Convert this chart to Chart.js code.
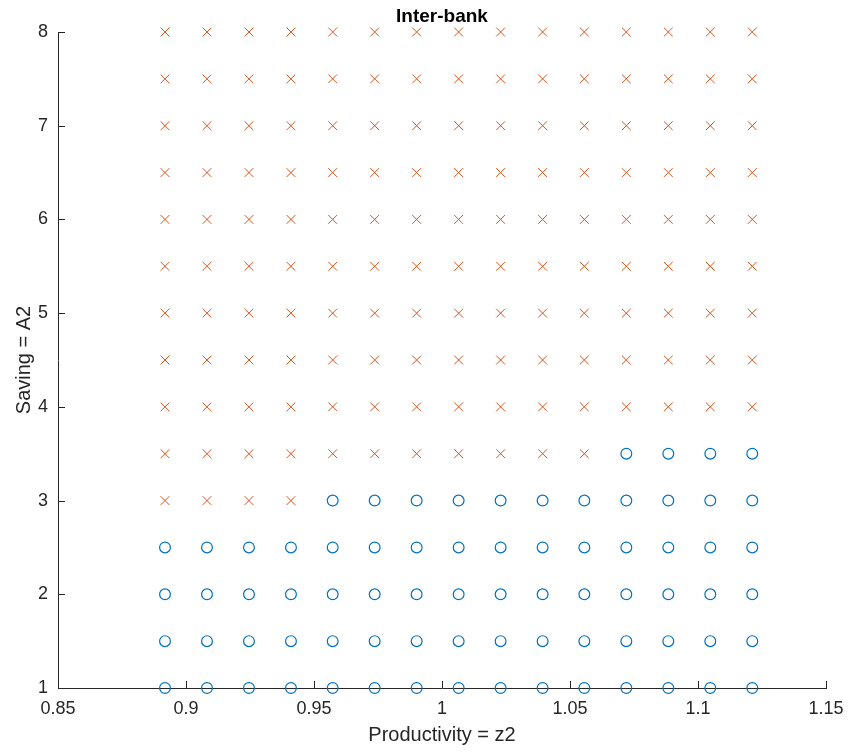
<!DOCTYPE html>
<html>
<head>
<meta charset="utf-8">
<script src="https://cdn.jsdelivr.net/npm/chart.js@4.4.0/dist/chart.umd.min.js"></script>
<style>
  html, body { margin: 0; padding: 0; background: #fff; }
  #wrap { width: 850px; height: 752px; }
</style>
</head>
<body>
<div id="wrap"><canvas id="c" width="850" height="752"></canvas></div>
<script>
// Productivity grid (z2)
const zGrid = [0.8918, 0.9082, 0.9246, 0.9410, 0.9573, 0.9737, 0.9901, 1.0065,
               1.0229, 1.0393, 1.0556, 1.0720, 1.0884, 1.1048, 1.1212];
// Saving grid (A2)
const aGrid = [1, 1.5, 2, 2.5, 3, 3.5, 4, 4.5, 5, 5.5, 6, 6.5, 7, 7.5, 8];
// Regime per (A2 row, z2 column): 'o' = circle regime, 'x' = cross regime
const regime = [
  'ooooooooooooooo', // 1.0
  'ooooooooooooooo', // 1.5
  'ooooooooooooooo', // 2.0
  'ooooooooooooooo', // 2.5
  'xxxxooooooooooo', // 3.0
  'xxxxxxxxxxxoooo', // 3.5
  'xxxxxxxxxxxxxxx', // 4.0
  'xxxxxxxxxxxxxxx', // 4.5
  'xxxxxxxxxxxxxxx', // 5.0
  'xxxxxxxxxxxxxxx', // 5.5
  'xxxxxxxxxxxxxxx', // 6.0
  'xxxxxxxxxxxxxxx', // 6.5
  'xxxxxxxxxxxxxxx', // 7.0
  'xxxxxxxxxxxxxxx', // 7.5
  'xxxxxxxxxxxxxxx'  // 8.0
];
const xTickValues = [0.85, 0.9, 0.95, 1, 1.05, 1.1, 1.15];
const xTickLabels = ['0.85', '0.9', '0.95', '1', '1.05', '1.1', '1.15'];
const yTickValues = [1, 2, 3, 4, 5, 6, 7, 8];
const yTickLabels = ['1', '2', '3', '4', '5', '6', '7', '8'];

const circlePts = [], crossPts = [];
aGrid.forEach((a, i) => {
  zGrid.forEach((z, j) => {
    (regime[i][j] === 'o' ? circlePts : crossPts).push({x: z, y: a});
  });
});

const AXIS = '#262626';
const FONT = '"Liberation Sans", Arial, Helvetica, sans-serif';

const inwardTicks = {
  id: 'inwardTicks',
  afterDatasetsDraw(chart) {
    const {ctx, chartArea, scales} = chart;
    const len = 7;
    ctx.save();
    ctx.strokeStyle = AXIS;
    ctx.lineWidth = 1;
    ctx.beginPath();
    scales.x.ticks.forEach(t => {
      const px = Math.round(scales.x.getPixelForValue(t.value)) + 0.5;
      ctx.moveTo(px, chartArea.bottom);
      ctx.lineTo(px, chartArea.bottom - len);
    });
    scales.y.ticks.forEach(t => {
      const py = Math.round(scales.y.getPixelForValue(t.value)) + 0.5;
      ctx.moveTo(chartArea.left, py);
      ctx.lineTo(chartArea.left + len, py);
    });
    ctx.stroke();
    ctx.restore();
  }
};

new Chart(document.getElementById('c'), {
  type: 'scatter',
  data: {
    datasets: [
      {
        label: 'circle',
        data: circlePts,
        pointStyle: 'circle',
        pointRadius: 5.4,
        pointBorderWidth: 1.2,
        pointBorderColor: '#0072BD',
        pointBackgroundColor: 'rgba(0,0,0,0)',
        clip: false
      },
      {
        label: 'cross',
        data: crossPts,
        pointStyle: 'crossRot',
        pointRadius: 6.2,
        pointBorderWidth: 1,
        pointBorderColor: '#D95319',
        pointBackgroundColor: '#D95319',
        clip: false
      }
    ]
  },
  options: {
    responsive: false,
    animation: false,
    events: [],
    layout: { padding: { left: 0, right: 24, top: 0, bottom: 0 } },
    plugins: {
      legend: { display: false },
      tooltip: { enabled: false },
      title: {
        display: true,
        fullSize: false,
        text: 'Inter-bank',
        color: '#000',
        font: { family: FONT, size: 19, weight: 'bold', lineHeight: 1.2 },
        padding: { top: 5, bottom: 4.2 }
      }
    },
    scales: {
      x: {
        type: 'linear',
        min: 0.85,
        max: 1.15,
        afterBuildTicks(scale) {
          scale.ticks = xTickValues.map(v => ({ value: v }));
        },
        afterFit(scale) {
          scale.height = 64;
          scale.paddingLeft = 0;
          scale.paddingRight = 0;
        },
        grid: { display: false, drawTicks: false },
        border: { display: true, color: AXIS, width: 1 },
        ticks: {
          color: AXIS,
          padding: 10,
          maxRotation: 0,
          autoSkip: false,
          font: { family: FONT, size: 18 },
          callback: (v) => xTickLabels[xTickValues.indexOf(v)]
        },
        title: {
          display: true,
          text: 'Productivity = z2',
          color: AXIS,
          font: { family: FONT, size: 20, lineHeight: 1.2 },
          padding: { top: 0, bottom: 5 }
        }
      },
      y: {
        type: 'linear',
        min: 1,
        max: 8,
        afterBuildTicks(scale) {
          scale.ticks = yTickValues.map(v => ({ value: v }));
        },
        afterFit(scale) {
          scale.width = 58;
          scale.paddingTop = 0;
          scale.paddingBottom = 0;
        },
        grid: { display: false, drawTicks: false },
        border: { display: true, color: AXIS, width: 1 },
        ticks: {
          color: AXIS,
          padding: 10,
          autoSkip: false,
          font: { family: FONT, size: 18 },
          callback: (v) => yTickLabels[yTickValues.indexOf(v)]
        },
        title: {
          display: true,
          text: 'Saving = A2',
          color: AXIS,
          font: { family: FONT, size: 20, lineHeight: 1.2 },
          padding: { top: 12, bottom: 0 }
        }
      }
    }
  },
  plugins: [inwardTicks]
});
</script>
</body>
</html>
